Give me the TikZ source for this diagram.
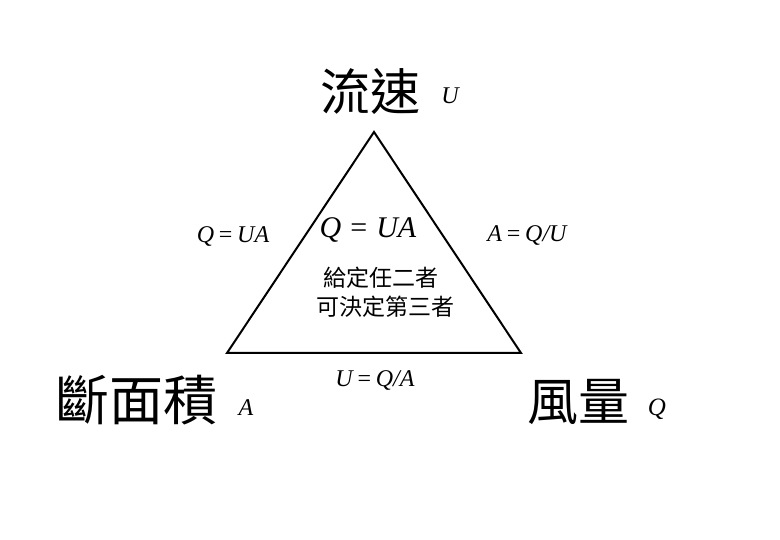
\documentclass[tikz,border=0pt]{standalone}
\usepackage{fontspec}
\setmainfont{Liberation Serif}
\newfontfamily\cjk{Noto Sans CJK TC}
\tikzset{
  tri/.style={line width=2pt, line join=miter},
  bigcjk/.style={inner sep=0pt, font=\cjk\fontsize{#1}{#1}\selectfont},
  var/.style={inner sep=0pt, anchor=base, font=\fontsize{#1}{#1}\selectfont\itshape},
  smallcjk/.style={inner sep=0pt, font=\cjk\fontsize{23}{23}\selectfont},
}
\begin{document}
\begin{tikzpicture}[x=1pt,y=-1pt]
\useasboundingbox (0,0) rectangle (780,540);
\coordinate (T) at (374,132);
\coordinate (L) at (227,353);
\coordinate (R) at (521,353);
\draw[tri] (T) -- (R) -- (L) -- cycle;
% vertex labels
\node[bigcjk=50] (tU) at (370,92) {流速};
\node[var=24] (vU) at (450,104) {U};
\node[bigcjk=54] (tA) at (137,400) {斷面積};
\node[var=24] (vA) at (246,415) {A};
\node[bigcjk=51] (tQ) at (578,402) {風量};
\node[var=25] (vQ) at (657,415) {Q};
% inner
\node[var=30] (inner) at (368,238) {Q\hspace{0.3em}\upshape=\hspace{0.3em}\itshape UA};
\node[smallcjk] (l1) at (381,278) {給定任二者};
\node[smallcjk] (l2) at (385,307) {可決定第三者};
% side formulas
\node[var=24] (fl) at (233,243) {Q\hspace{0.2em}\upshape=\hspace{0.2em}\itshape UA};
\node[var=24] (fr) at (527,242) {A\hspace{0.2em}\upshape=\hspace{0.2em}\itshape Q/U};
\node[var=24] (fb) at (375,387) {U\hspace{0.2em}\upshape=\hspace{0.2em}\itshape Q/A};
\end{tikzpicture}
\end{document}
